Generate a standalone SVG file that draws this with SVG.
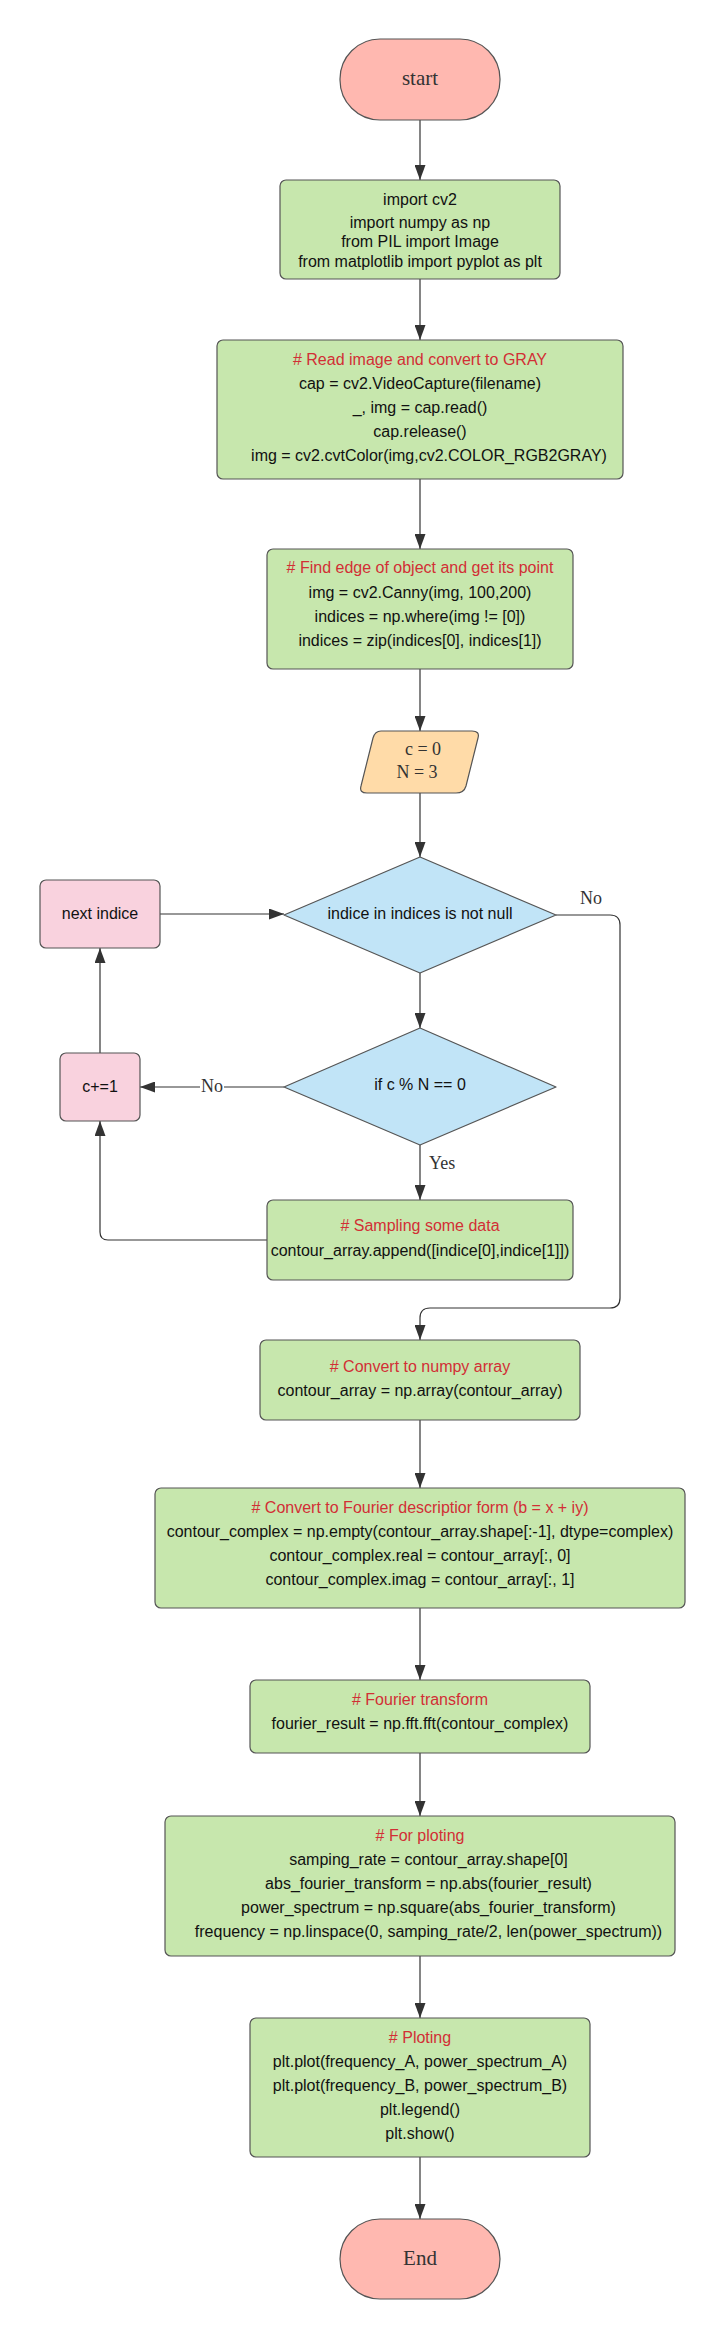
<svg xmlns="http://www.w3.org/2000/svg" width="725" height="2340" viewBox="0 0 725 2340">
<defs>
<marker id="arr" markerUnits="userSpaceOnUse" markerWidth="15" markerHeight="11" refX="15" refY="5.5" orient="auto">
<path d="M0,0 L15,5.5 L0,11 z" fill="#333"/>
</marker>
<style>
.term{fill:#FFB8B0;stroke:#555;stroke-width:1.2}
.proc{fill:#C7E7AD;stroke:#555;stroke-width:1.2}
.dec{fill:#C1E4F7;stroke:#555;stroke-width:1.2;stroke-linejoin:round}
.pink{fill:#F9D2DE;stroke:#555;stroke-width:1.2}
.io{fill:#FFDBA8;stroke:#555;stroke-width:1.2;stroke-linejoin:round}
.t{font-family:"Liberation Sans",Arial,sans-serif;font-size:16px;fill:#111;text-anchor:middle}
.c{fill:#D22F35}
.s{font-family:"Liberation Serif","Times New Roman",serif;font-size:18px;fill:#333}
.ts{font-family:"Liberation Serif","Times New Roman",serif;font-size:21px;fill:#333;text-anchor:middle}
.ln{fill:none;stroke:#333;stroke-width:1.2}
</style>
</defs>
<rect width="725" height="2340" fill="#fff"/>
<g id="connectors">
<path class="ln" d="M420,120 L420,180" marker-end="url(#arr)"/>
<path class="ln" d="M420,279 L420,340" marker-end="url(#arr)"/>
<path class="ln" d="M420,479 L420,549" marker-end="url(#arr)"/>
<path class="ln" d="M420,669 L420,731" marker-end="url(#arr)"/>
<path class="ln" d="M420,793 L420,857" marker-end="url(#arr)"/>
<path class="ln" d="M160,914 L284,914" marker-end="url(#arr)"/>
<path class="ln" d="M420,973 L420,1028" marker-end="url(#arr)"/>
<path class="ln" d="M284,1087 L140,1087" marker-end="url(#arr)"/>
<path class="ln" d="M420,1145 L420,1200" marker-end="url(#arr)"/>
<path class="ln" d="M267,1240 L108,1240 Q100,1240 100,1232 L100,1121" marker-end="url(#arr)"/>
<path class="ln" d="M100,1053 L100,948" marker-end="url(#arr)"/>
<path class="ln" d="M556,915 L610,915 Q620,915 620,925 L620,1298 Q620,1308 610,1308 L430,1308 Q420,1308 420,1318 L420,1340" marker-end="url(#arr)"/>
<path class="ln" d="M420,1420 L420,1488" marker-end="url(#arr)"/>
<path class="ln" d="M420,1608 L420,1680" marker-end="url(#arr)"/>
<path class="ln" d="M420,1753 L420,1816" marker-end="url(#arr)"/>
<path class="ln" d="M420,1956 L420,2018" marker-end="url(#arr)"/>
<path class="ln" d="M420,2157 L420,2219" marker-end="url(#arr)"/>
<text class="s" x="591" y="904" text-anchor="middle">No</text>
<rect x="200" y="1075" width="24" height="22" fill="#fff"/>
<text class="s" x="212" y="1092" text-anchor="middle">No</text>
<text class="s" x="429" y="1169">Yes</text>
</g>
<g id="start">
<rect class="term" x="340" y="39" width="160" height="81" rx="40" ry="40"/>
<text class="ts" x="420" y="85">start</text>
</g>
<g id="imports">
<rect class="proc" x="280" y="180" width="280" height="99" rx="6"/>
<text class="t" x="420" y="205">import cv2</text>
<text class="t" x="420" y="228">import numpy as np</text>
<text class="t" x="420" y="247">from PIL import Image</text>
<text class="t" x="420" y="267">from matplotlib import pyplot as plt</text>
</g>
<g id="read">
<rect class="proc" x="217" y="340" width="406" height="139" rx="6"/>
<text class="t c" x="420" y="365">#  Read image and convert to GRAY</text>
<text class="t" x="420" y="389">cap = cv2.VideoCapture(filename)</text>
<text class="t" x="420" y="413">_, img = cap.read()</text>
<text class="t" x="420" y="437">cap.release()</text>
<text class="t" x="429" y="461">img = cv2.cvtColor(img,cv2.COLOR_RGB2GRAY)</text>
</g>
<g id="edge">
<rect class="proc" x="267" y="549" width="306" height="120" rx="6"/>
<text class="t c" x="420" y="573"># Find edge of object and get its point</text>
<text class="t" x="420" y="598">img = cv2.Canny(img, 100,200)</text>
<text class="t" x="420" y="622">indices = np.where(img != [0])</text>
<text class="t" x="420" y="646">indices = zip(indices[0], indices[1])</text>
</g>
<g id="params">
<path class="io" d="M381,731 L472,731 Q480,731 478,738 L466,786 Q464,793 456,793 L367,793 Q359,793 361,786 L373,738 Q375,731 381,731 Z"/>
<text class="s" x="423" y="755" text-anchor="middle">c = 0</text>
<text class="s" x="417" y="778" text-anchor="middle">N = 3</text>
</g>
<g id="next-indice">
<rect class="pink" x="40" y="880" width="120" height="68" rx="6"/>
<text class="t" x="100" y="919">next indice</text>
</g>
<g id="decision-indices">
<path class="dec" d="M420,857 L556,915 L420,973 L284,915 Z"/>
<text class="t" x="420" y="919">indice in indices is not null</text>
</g>
<g id="decision-mod">
<path class="dec" d="M420,1028 L556,1087 L420,1145 L284,1087 Z"/>
<text class="t" x="420" y="1090">if c % N == 0</text>
</g>
<g id="increment">
<rect class="pink" x="60" y="1053" width="80" height="68" rx="6"/>
<text class="t" x="100" y="1092">c+=1</text>
</g>
<g id="sampling">
<rect class="proc" x="267" y="1200" width="306" height="80" rx="6"/>
<text class="t c" x="420" y="1231"># Sampling some data</text>
<text class="t" x="420" y="1256">contour_array.append([indice[0],indice[1]])</text>
</g>
<g id="numpy">
<rect class="proc" x="260" y="1340" width="320" height="80" rx="6"/>
<text class="t c" x="420" y="1372"># Convert to numpy array</text>
<text class="t" x="420" y="1396">contour_array = np.array(contour_array)</text>
</g>
<g id="fourier-form">
<rect class="proc" x="155" y="1488" width="530" height="120" rx="6"/>
<text class="t c" x="420" y="1513"># Convert to Fourier descriptior form (b = x + iy)</text>
<text class="t" x="420" y="1537">contour_complex = np.empty(contour_array.shape[:-1], dtype=complex)</text>
<text class="t" x="420" y="1561">contour_complex.real = contour_array[:, 0]</text>
<text class="t" x="420" y="1585">contour_complex.imag = contour_array[:, 1]</text>
</g>
<g id="fft">
<rect class="proc" x="250" y="1680" width="340" height="73" rx="6"/>
<text class="t c" x="420" y="1705"># Fourier transform</text>
<text class="t" x="420" y="1729">fourier_result = np.fft.fft(contour_complex)</text>
</g>
<g id="for-ploting">
<rect class="proc" x="165" y="1816" width="510" height="140" rx="6"/>
<text class="t c" x="420" y="1841"># For ploting</text>
<text class="t" x="428.5" y="1865">samping_rate = contour_array.shape[0]</text>
<text class="t" x="428.5" y="1889">abs_fourier_transform = np.abs(fourier_result)</text>
<text class="t" x="428.5" y="1913">power_spectrum = np.square(abs_fourier_transform)</text>
<text class="t" x="428.5" y="1937">frequency = np.linspace(0, samping_rate/2, len(power_spectrum))</text>
</g>
<g id="ploting">
<rect class="proc" x="250" y="2018" width="340" height="139" rx="6"/>
<text class="t c" x="420" y="2043"># Ploting</text>
<text class="t" x="420" y="2067">plt.plot(frequency_A, power_spectrum_A)</text>
<text class="t" x="420" y="2091">plt.plot(frequency_B, power_spectrum_B)</text>
<text class="t" x="420" y="2115">plt.legend()</text>
<text class="t" x="420" y="2139">plt.show()</text>
</g>
<g id="end">
<rect class="term" x="340" y="2219" width="160" height="80" rx="40" ry="40"/>
<text class="ts" x="420" y="2265">End</text>
</g>
</svg>
